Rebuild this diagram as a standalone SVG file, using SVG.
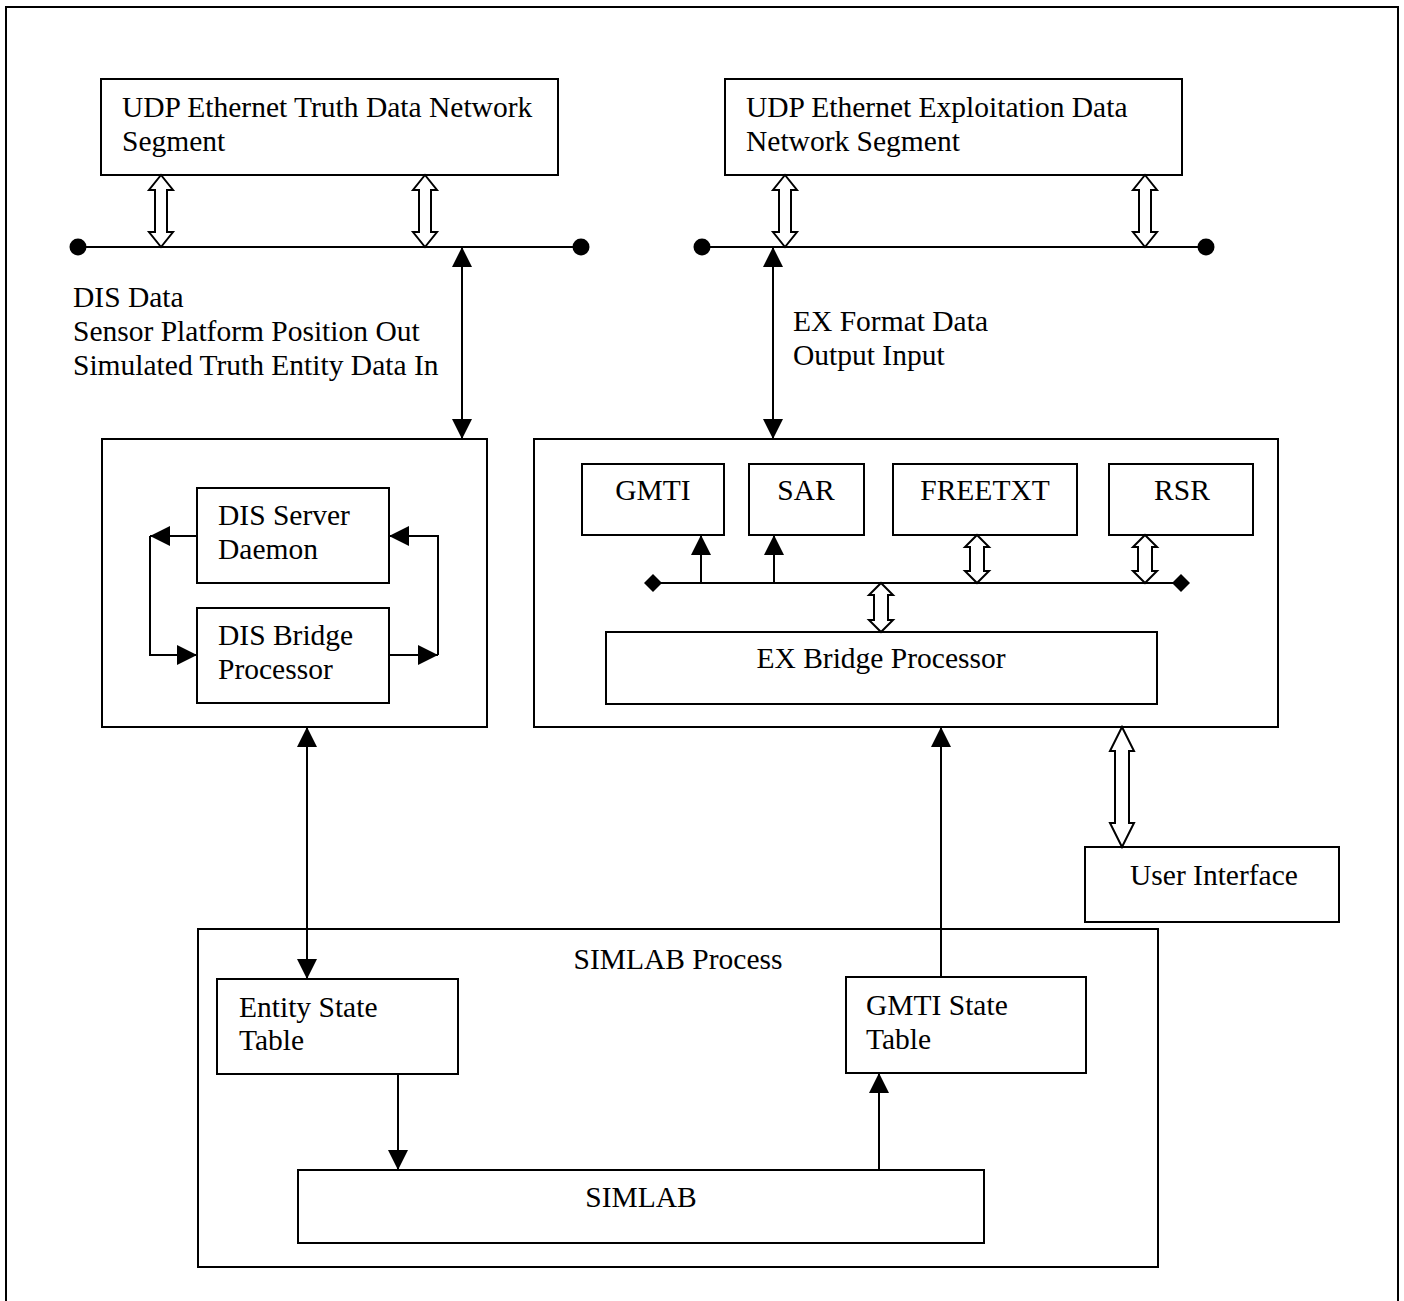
<svg xmlns="http://www.w3.org/2000/svg" width="1404" height="1301" viewBox="0 0 1404 1301">
<style>
.box{fill:#fff;stroke:#000;stroke-width:2}
.ln{fill:none;stroke:#000;stroke-width:2}
.hol{fill:#fff;stroke:#000;stroke-width:2;stroke-linejoin:miter}
text{font-family:"Liberation Serif","Times New Roman",serif;font-size:29.5px;fill:#000}
.c{text-anchor:middle}
</style>
<defs>
<marker id="ah" markerUnits="userSpaceOnUse" markerWidth="20" markerHeight="20" refX="20" refY="10" orient="auto-start-reverse">
<path d="M0,0 L20,10 L0,20 z" fill="#000"/>
</marker>
</defs>
<rect x="6" y="7" width="1392" height="1310" fill="#fff" stroke="#000" stroke-width="2"/>

<g id="truth-net">
<rect class="box" x="101" y="79" width="457" height="96"/>
<text x="122" y="117">UDP Ethernet Truth Data Network</text>
<text x="122" y="151">Segment</text>
</g>
<g id="exploit-net">
<rect class="box" x="725" y="79" width="457" height="96"/>
<text x="746" y="117">UDP Ethernet Exploitation Data</text>
<text x="746" y="151">Network Segment</text>
</g>

<g id="dis-bridge">
<rect class="box" x="102" y="439" width="385" height="288"/>
<g id="dis-server">
<rect class="box" x="197" y="488" width="192" height="95"/>
<text x="218" y="525">DIS Server</text>
<text x="218" y="559">Daemon</text>
</g>
<g id="dis-bridge-proc">
<rect class="box" x="197" y="608" width="192" height="95"/>
<text x="218" y="645">DIS Bridge</text>
<text x="218" y="679">Processor</text>
</g>
</g>

<g id="ex-bridge">
<rect class="box" x="534" y="439" width="744" height="288"/>
<g id="gmti"><rect class="box" x="582" y="464" width="142" height="71"/><text class="c" x="653" y="500">GMTI</text></g>
<g id="sar"><rect class="box" x="749" y="464" width="115" height="71"/><text class="c" x="806" y="500">SAR</text></g>
<g id="freetxt"><rect class="box" x="893" y="464" width="184" height="71"/><text class="c" x="985" y="500">FREETXT</text></g>
<g id="rsr"><rect class="box" x="1109" y="464" width="144" height="71"/><text class="c" x="1182" y="500">RSR</text></g>
<g id="ex-bridge-proc"><rect class="box" x="606" y="632" width="551" height="72"/><text class="c" x="881" y="668">EX Bridge Processor</text></g>
</g>

<g id="user-interface">
<rect class="box" x="1085" y="847" width="254" height="75"/>
<text x="1130" y="885">User Interface</text>
</g>

<g id="simlab-process">
<rect class="box" x="198" y="929" width="960" height="338"/>
<text class="c" x="678" y="969">SIMLAB Process</text>
<g id="entity-table">
<rect class="box" x="217" y="979" width="241" height="95"/>
<text x="239" y="1017">Entity State</text>
<text x="239" y="1050">Table</text>
</g>
<g id="gmti-table">
<rect class="box" x="846" y="977" width="240" height="96"/>
<text x="866" y="1015">GMTI State</text>
<text x="866" y="1049">Table</text>
</g>
<g id="simlab">
<rect class="box" x="298" y="1170" width="686" height="73"/>
<text class="c" x="641" y="1207">SIMLAB</text>
</g>
</g>

<g id="labels">
<text x="73" y="307">DIS Data</text>
<text x="73" y="341">Sensor Platform Position Out</text>
<text x="73" y="375">Simulated Truth Entity Data In</text>
<text x="793" y="331">EX Format Data</text>
<text x="793" y="365">Output Input</text>
</g>

<g id="connectors">
<line class="ln" x1="78" y1="247" x2="581" y2="247"/>
<circle cx="78" cy="247" r="8.5" fill="#000"/>
<circle cx="581" cy="247" r="8.5" fill="#000"/>
<line class="ln" x1="702" y1="247" x2="1206" y2="247"/>
<circle cx="702" cy="247" r="8.5" fill="#000"/>
<circle cx="1206" cy="247" r="8.5" fill="#000"/>
<line class="ln" x1="653" y1="583" x2="1181" y2="583"/>
<polygon points="653,574 662,583 653,592 644,583" fill="#000"/>
<polygon points="1181,574 1190,583 1181,592 1172,583" fill="#000"/>

<polygon class="hol" points="161,175 173,190 167,190 167,232 173,232 161,247 149,232 155,232 155,190 149,190"/>
<polygon class="hol" points="425,175 437,190 431,190 431,232 437,232 425,247 413,232 419,232 419,190 413,190"/>
<polygon class="hol" points="785,175 797,190 791,190 791,232 797,232 785,247 773,232 779,232 779,190 773,190"/>
<polygon class="hol" points="1145,175 1157,190 1151,190 1151,232 1157,232 1145,247 1133,232 1139,232 1139,190 1133,190"/>
<polygon class="hol" points="977,535 989,547 984,547 984,571 989,571 977,583 965,571 970,571 970,547 965,547"/>
<polygon class="hol" points="1145,535 1157,547 1152,547 1152,571 1157,571 1145,583 1133,571 1138,571 1138,547 1133,547"/>
<polygon class="hol" points="881,583 893,595 888,595 888,620 893,620 881,632 869,620 874,620 874,595 869,595"/>
<polygon class="hol" points="1122,727 1134,751 1129,751 1129,823 1134,823 1122,847 1110,823 1115,823 1115,751 1110,751"/>

<line class="ln" x1="462" y1="247" x2="462" y2="439" marker-start="url(#ah)" marker-end="url(#ah)"/>
<line class="ln" x1="773" y1="247" x2="773" y2="439" marker-start="url(#ah)" marker-end="url(#ah)"/>
<line class="ln" x1="307" y1="727" x2="307" y2="979" marker-start="url(#ah)" marker-end="url(#ah)"/>

<line class="ln" x1="701" y1="583" x2="701" y2="535" marker-end="url(#ah)"/>
<line class="ln" x1="774" y1="583" x2="774" y2="535" marker-end="url(#ah)"/>

<line class="ln" x1="197" y1="536" x2="150" y2="536" marker-end="url(#ah)"/>
<polyline class="ln" points="150,536 150,655 197,655" marker-end="url(#ah)"/>
<line class="ln" x1="389" y1="655" x2="438" y2="655" marker-end="url(#ah)"/>
<polyline class="ln" points="438,655 438,536 389,536" marker-end="url(#ah)"/>

<line class="ln" x1="398" y1="1074" x2="398" y2="1170" marker-end="url(#ah)"/>
<line class="ln" x1="879" y1="1170" x2="879" y2="1073" marker-end="url(#ah)"/>
<line class="ln" x1="941" y1="977" x2="941" y2="727" marker-end="url(#ah)"/>
</g>
</svg>
